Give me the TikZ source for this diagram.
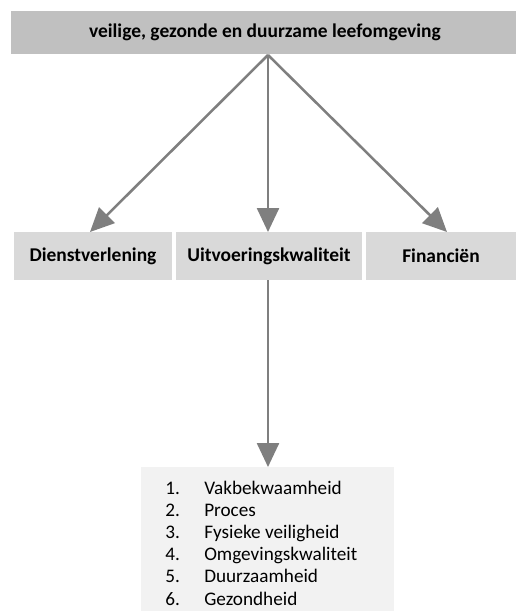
\documentclass[tikz,border=0pt]{standalone}
\usepackage{fontspec}
\setmainfont{Carlito}
\usetikzlibrary{arrows.meta}
\definecolor{topgray}{HTML}{C0C0C0}
\definecolor{midgray}{HTML}{D9D9D9}
\definecolor{listgray}{HTML}{F2F2F2}
\definecolor{arrowgray}{HTML}{7F7F7F}
\begin{document}
\begin{tikzpicture}[x=0.75pt,y=-0.75pt,
  topbox/.style={draw=none,inner sep=0pt,font=\fontsize{14.6}{16}\selectfont\bfseries},
  catbox/.style={draw=none,inner sep=0pt,font=\fontsize{14.6}{16}\selectfont\bfseries},
  conn/.style={draw=arrowgray,line width=1.9pt,-{Triangle[length=18pt,width=16.5pt]}},
  listtext/.style={anchor=base west,inner sep=0pt,font=\fontsize{14.4}{16}\selectfont}]
\useasboundingbox (0,0) rectangle (516,611);
\fill[topgray] (11,11) rectangle (516,54);
\node[topbox] (top) at (265,32.5) {veilige, gezonde en duurzame leefomgeving};
\coordinate (apex) at (268,55);
\fill[midgray] (14,232) rectangle (172,280);
\fill[midgray] (176,232) rectangle (362,280);
\fill[midgray] (366,232) rectangle (516,280);
\node[catbox] (dienst) at (93,256) {Dienstverlening};
\node[catbox] (uitv) at (269,256) {Uitvoeringskwaliteit};
\node[catbox] (fin) at (441,256) {Financiën};
\coordinate (dtip) at (90,232);
\coordinate (utip) at (268,232);
\coordinate (ftip) at (447,232);
\coordinate (ubot) at (268,280);
\fill[listgray] (141,467) rectangle (394,611);
\coordinate (ltip) at (268,467);
\draw[conn] (apex) -- (dtip);
\draw[conn] (apex) -- (utip);
\draw[conn] (apex) -- (ftip);
\draw[conn] (ubot) -- (ltip);
\foreach \n/\t [count=\i from 0] in {1/Vakbekwaamheid,2/Proces,3/Fysieke veiligheid,4/Omgevingskwaliteit,5/Duurzaamheid,6/Gezondheid}{
  \node[listtext] (n\n) at (165,{494+22.2*\i}) {\n.};
  \node[listtext] (t\n) at (204,{494+22.2*\i}) {\t};
}
\end{tikzpicture}
\end{document}
